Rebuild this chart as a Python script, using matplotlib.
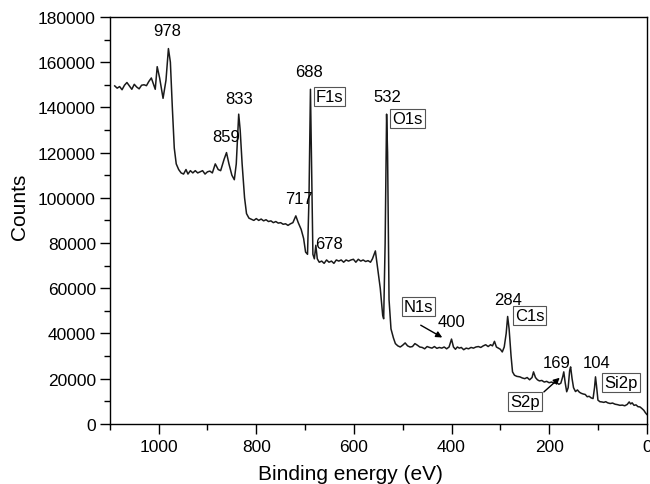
import matplotlib
matplotlib.use("Agg")
import matplotlib.pyplot as plt
from matplotlib.ticker import MultipleLocator

plt.rcParams['font.family'] = ['Liberation Sans', 'DejaVu Sans']

energy = [1090, 1085, 1080, 1075, 1070, 1065, 1060, 1055, 1050, 1045, 1040, 1035, 1030, 1025,
          1020, 1015, 1011, 1007, 1003, 998, 991, 985, 980, 976, 972, 968, 964, 959, 954, 949,
          944, 940, 935, 930, 925, 920, 915, 910, 905, 900, 895, 890, 884, 878, 873, 866, 861,
          856, 850, 845, 841, 836, 833, 829, 824, 820, 815, 810, 805, 800, 795, 790, 785, 780,
          775, 770, 765, 760, 755, 750, 745, 740, 735, 730, 725, 719, 714, 708, 703, 699, 695,
          692, 689, 687, 684, 681, 678, 675, 671, 666, 661, 656, 651, 646, 641, 636, 631, 626,
          621, 616, 611, 606, 601, 596, 591, 586, 581, 576, 571, 566, 562, 556, 552, 546, 541,
          539, 536, 533, 531, 528, 524, 519, 515, 510, 505, 500, 495, 490, 485, 480, 475, 470,
          465, 460, 455, 450, 445, 440, 435, 430, 425, 420, 415, 410, 405, 400, 396, 392, 388,
          384, 380, 375, 370, 365, 360, 355, 350, 345, 340, 335, 330, 325, 320, 316, 312, 308,
          304, 300, 296, 292, 288, 285, 282, 278, 275, 271, 266, 260, 255, 250, 245, 240, 235,
          232, 228, 224, 220, 215, 210, 205, 200, 195, 190, 185, 180, 176, 172, 170, 167, 164,
          161, 158, 156, 153, 150, 146, 142, 138, 134, 130, 126, 122, 118, 114, 110, 107, 105,
          103, 100, 96, 92, 88, 84, 80, 75, 70, 65, 60, 55, 50, 45, 40, 36, 33, 30, 26, 22, 18,
          14, 10, 6, 3, 0]
counts = [149500, 148500, 149200, 147800, 149800, 151000, 149500, 148000, 150200, 149000, 148200,
          149800, 150000, 149600, 151500, 153000, 150500, 148000, 158000, 153000, 144000, 152000,
          166000, 160000, 140000, 122000, 115000, 112500, 111000, 110500, 112500, 110500, 112000,
          111000, 112000, 111000, 111500, 112000, 110500, 111500, 111800, 111000, 115000, 112500,
          112000, 117000, 120000, 115000, 110000, 108000, 115000, 137000, 130000, 115000, 100000,
          93000, 91000, 90500, 90000, 90800, 90000, 90600, 89800, 90300, 89500, 89800, 89000,
          89500, 88800, 89000, 88300, 88500, 87800, 88500, 89000, 92000, 89000, 86000, 82000,
          76000, 75000, 100000, 148000, 120000, 75000, 73000, 79000, 73000, 71500, 72000, 71000,
          72500, 71500, 72000, 71000, 72500, 72000, 72500, 71500, 72500, 72000, 72500, 72800,
          71500, 72800, 72000, 72500, 71800, 72200, 71500, 73000, 76500, 70000, 60000, 48000,
          46500, 80000, 137000, 120000, 55000, 42000, 38000, 35500, 34500, 34000, 34800, 35800,
          34500, 34000, 34200, 35500, 34800, 34000, 33800, 33200, 34200, 33800, 33500, 34200,
          33400, 33800, 33500, 34000, 33200, 34000, 37500, 34000, 33000, 34000, 33500, 33800,
          32800, 33500, 33200, 33800, 33500, 34000, 34200, 33800, 34500, 35000, 34200, 35000,
          34500, 36500, 34000, 33500, 33000, 31800, 34000, 40000, 47500, 42000, 30000, 23000,
          21500, 21000, 20800, 20300, 20000, 20500, 19500, 20500, 23000, 20500, 19500, 19000,
          19200, 18500, 18800, 18200, 18500, 18000, 18300, 17500, 18000, 21000, 23000, 18000,
          14200, 16000, 23500, 25200, 20000, 16000, 14300, 15000, 14000, 13500, 13200, 13000,
          12000, 12200, 11500, 11200, 16000, 20800, 17000, 10500, 9800, 9700, 9500, 9800, 9300,
          9000, 9200, 8700, 8500, 8200, 8300, 8000, 8600, 9700, 8800, 9300, 8200, 8400, 7600,
          7500, 6800, 6000, 5000, 4200]

# peak number labels: text, energy, counts (text centre)
num_labels = ["978", "859", "833", "688", "532", "717", "678", "400", "284", "169", "104"]
num_x = [983, 861, 835, 691, 531, 712, 650, 400, 285, 185, 103]
num_y = [174000, 127000, 144000, 155700, 144700, 99600, 79600, 45100, 54900, 27000, 27000]

# boxed element labels
el_labels = ["F1s", "O1s", "N1s", "C1s", "S2p", "Si2p"]
el_x = [650, 490, 468, 240, 250, 53]
el_y = [145000, 135000, 51800, 47800, 9700, 18100]

fig = plt.figure(figsize=(6.5, 4.85), dpi=100)
ax = fig.add_axes([0.169, 0.124, 0.826, 0.839])
ax.plot(energy, counts, color='#1a1a1a', lw=1.1)

ax.set_xlim(1100, 0)
ax.set_ylim(0, 180000)
ax.xaxis.set_major_locator(MultipleLocator(200))
ax.xaxis.set_minor_locator(MultipleLocator(100))
ax.yaxis.set_major_locator(MultipleLocator(20000))
ax.yaxis.set_minor_locator(MultipleLocator(10000))
ax.tick_params(which='major', direction='out', length=7, width=1, labelsize=12.5, pad=4)
ax.tick_params(which='minor', direction='out', length=4, width=1)
ax.tick_params(axis='y', which='major', pad=3)
for s in ax.spines.values():
    s.set_linewidth(1.0)

fig.text(350 / 650, 1 - 475 / 485, "Binding energy (eV)", fontsize=15, ha='center', va='center')
fig.text(20 / 650, 1 - 207 / 485, "Counts", fontsize=15, ha='center', va='center', rotation=90)

for t, x, y in zip(num_labels, num_x, num_y):
    ax.text(x, y, t, ha='center', va='center', fontsize=12)

for t, x, y in zip(el_labels, el_x, el_y):
    ax.text(x, y, t, ha='center', va='center', fontsize=12,
            bbox=dict(boxstyle='square,pad=0.12', fc='white', ec='#555555', lw=0.8))

ax.annotate("", xy=(414, 37600), xytext=(468, 44250),
            arrowprops=dict(arrowstyle='-|>', color='black', lw=1.0, mutation_scale=9))
ax.annotate("", xy=(174, 21200), xytext=(215, 13300),
            arrowprops=dict(arrowstyle='-|>', color='black', lw=1.0, mutation_scale=9))

fig.savefig("out.png", dpi=100)
